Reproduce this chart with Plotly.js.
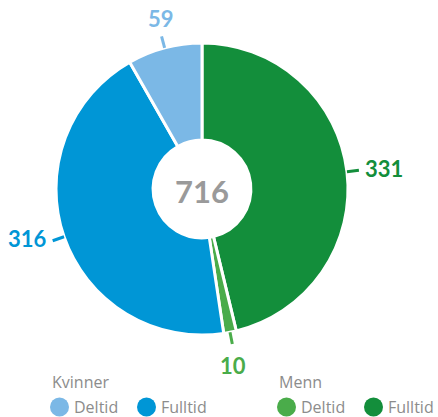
<!DOCTYPE html>
<html>
<head>
<meta charset="utf-8">
<script src="https://cdn.plot.ly/plotly-3.0.1.min.js"></script>
<style>
html,body{margin:0;padding:0;background:#fff;}
#chart{width:438px;height:417px;}
</style>
</head>
<body>
<div id="chart"></div>
<script>
// ---- data ----
const groups = ['Menn', 'Menn', 'Kvinner', 'Kvinner'];
const types = ['Fulltid', 'Deltid', 'Fulltid', 'Deltid'];
const values = [331, 10, 316, 59];
const colors = ['#138e3b', '#4aac4a', '#0096d6', '#7bb8e6'];
const legendGroups = ['Kvinner', 'Menn'];
const legendTypes = ['Deltid', 'Fulltid'];

// ---- layout constants ----
const W = 438, H = 417;
const CX = 202, CY = 189, R = 146;
const px = x => x / W;
const py = y => 1 - y / H;
const FONT = 'Lato, "Open Sans", sans-serif';
const LFONT = '"Open Sans", Lato, sans-serif';

const total = values.reduce((a, b) => a + b, 0);
const labels = groups.map((g, i) => g + ' ' + types[i]);

const shapes = [];
const annotations = [];

// center total
annotations.push({
  xref: 'paper', yref: 'paper', x: px(CX), y: py(CY + 2),
  text: '<b>' + total + '</b>', showarrow: false,
  font: {family: FONT, size: 31, color: '#9a9a9a'}
});

// data labels with leader lines
let cum = 0;
values.forEach((v, i) => {
  const mid = (cum + v / 2) / total * 2 * Math.PI;
  cum += v;
  const s = Math.sin(mid), c = Math.cos(mid);
  const x1 = CX + R * s, y1 = CY - R * c;
  const x2 = CX + (R + 12) * s, y2 = CY - (R + 12) * c;
  shapes.push({
    type: 'line', xref: 'paper', yref: 'paper',
    x0: px(x1), y0: py(y1), x1: px(x2), y1: py(y2),
    line: {color: colors[i], width: 3}
  });
  const a = {
    xref: 'paper', yref: 'paper', showarrow: false,
    text: '<b>' + v + '</b>',
    font: {family: FONT, size: 22, color: colors[i]}
  };
  if (Math.abs(s) > 0.5) {
    a.x = px(x2 + (s > 0 ? 4 : -4));
    a.y = py(y2 - 2);
    a.xanchor = s > 0 ? 'left' : 'right';
    a.yanchor = 'middle';
  } else {
    a.x = px(x2 + 2 * s);
    a.y = py(y2 + (c > 0 ? -2 : 6));
    a.xanchor = 'center';
    a.yanchor = c > 0 ? 'bottom' : 'top';
  }
  annotations.push(a);
});

// legend (custom, grouped)
const groupX = [50, 277];
const itemOffset = [0, 87];
legendGroups.forEach((g, gi) => {
  annotations.push({
    xref: 'paper', yref: 'paper', x: px(groupX[gi]), y: py(382),
    xanchor: 'left', yanchor: 'middle', showarrow: false,
    text: g, font: {family: LFONT, size: 16, color: '#8c8c8c'}
  });
  legendTypes.forEach((t, ti) => {
    const idx = groups.findIndex((gg, k) => gg === g && types[k] === t);
    const x0 = groupX[gi] + itemOffset[ti];
    shapes.push({
      type: 'circle', xref: 'paper', yref: 'paper',
      xsizemode: 'pixel', ysizemode: 'pixel',
      xanchor: px(x0 + 9.5), yanchor: py(407),
      x0: -9.5, x1: 9.5, y0: -9.5, y1: 9.5,
      fillcolor: colors[idx], line: {width: 0}
    });
    annotations.push({
      xref: 'paper', yref: 'paper', x: px(x0 + 22), y: py(407),
      xanchor: 'left', yanchor: 'middle', showarrow: false,
      text: t, font: {family: LFONT, size: 16, color: '#8c8c8c'}
    });
  });
});

const trace = {
  type: 'pie',
  labels: labels,
  values: values,
  sort: false,
  direction: 'clockwise',
  rotation: 0,
  hole: 0.335,
  textinfo: 'none',
  hoverinfo: 'label+value',
  marker: {colors: colors, line: {color: '#ffffff', width: 3}},
  domain: {x: [px(CX - R), px(CX + R)], y: [py(CY + R), py(CY - R)]},
  showlegend: false
};

const layout = {
  width: W, height: H,
  margin: {l: 0, r: 0, t: 0, b: 0},
  paper_bgcolor: '#ffffff',
  showlegend: false,
  shapes: shapes,
  annotations: annotations
};

Plotly.newPlot('chart', [trace], layout, {displayModeBar: false, staticPlot: true});
</script>
</body>
</html>
